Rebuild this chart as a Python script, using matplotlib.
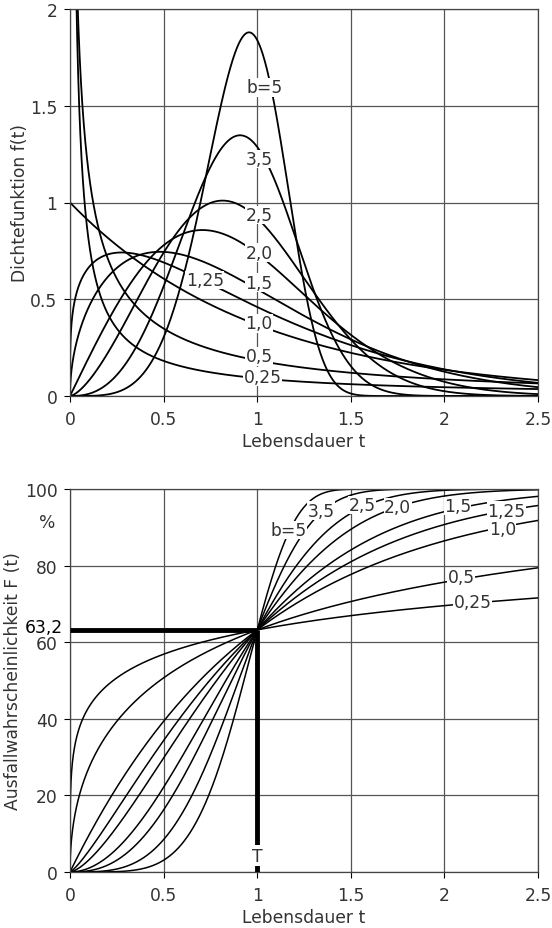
import numpy as np
import matplotlib
matplotlib.use("Agg")
import matplotlib.pyplot as plt

## Weibull shape parameters b (T = 1)
shapes = [0.25, 0.5, 1.0, 1.25, 1.5, 2.0, 2.5, 3.5, 5.0]
T_char = 1.0

## inline labels: text, t, value
pdf_labels = ["0,25", "0,5", "1,0", "1,25", "1,5", "2,0", "2,5", "3,5", "b=5"]
pdf_label_t = [1.03, 1.01, 1.01, 0.72, 1.01, 1.01, 1.01, 1.01, 1.04]
pdf_label_y = [0.10, 0.205, 0.375, 0.60, 0.585, 0.74, 0.935, 1.225, 1.595]

cdf_labels = ["0,25", "0,5", "1,0", "1,25", "1,5", "2,0", "2,5", "3,5", "b=5"]
cdf_label_t = [2.15, 2.09, 2.31, 2.33, 2.07, 1.75, 1.56, 1.34, 1.17]
cdf_label_y = [70.5, 77.0, 89.6, 94.3, 95.6, 95.3, 95.8, 94.3, 89.3]

x_ticks = [0, 0.5, 1, 1.5, 2, 2.5]
x_ticklabels = ["0", "0.5", "1", "1.5", "2", "2.5"]
pdf_yticks = [0, 0.5, 1, 1.5, 2]
pdf_yticklabels = ["0", "0.5", "1", "1.5", "2"]
cdf_yticks = [0, 20, 40, 60, 80, 100]
cdf_yticklabels = ["0", "20", "40", "60", "80", "100"]

txtcol = "#333333"
fs = 12.3
plt.rcParams["font.family"] = ["DejaVu Sans"]

t = np.linspace(1e-5, 2.5, 3000)

fig = plt.figure(figsize=(5.52, 9.29), dpi=100)
ax1 = fig.add_axes([70/552, 1-397/929, 468/552, 387/929])
ax2 = fig.add_axes([70/552, 1-873/929, 468/552, 383/929])

lab_box = dict(facecolor="white", edgecolor="none", pad=0.2)

for b in shapes:
    f = b / T_char * (t / T_char) ** (b - 1) * np.exp(-(t / T_char) ** b)
    F = 100 * (1 - np.exp(-(t / T_char) ** b))
    ax1.plot(t, f, color="black", lw=1.3)
    ax2.plot(t, F, color="black", lw=1.1)

for i in range(len(pdf_labels)):
    ax1.text(pdf_label_t[i], pdf_label_y[i], pdf_labels[i], fontsize=fs, color=txtcol,
             ha="center", va="center", bbox=lab_box, zorder=5)
for i in range(len(cdf_labels)):
    ax2.text(cdf_label_t[i], cdf_label_y[i], cdf_labels[i], fontsize=fs, color=txtcol,
             ha="center", va="center", bbox=lab_box, zorder=5)

## characteristic lifetime marker
F_T = 100 * (1 - np.exp(-1))
ax2.plot([0, T_char], [F_T, F_T], color="black", lw=3.5, solid_capstyle="butt", zorder=4)
ax2.plot([T_char, T_char], [0, F_T], color="black", lw=3.5, solid_capstyle="butt", zorder=4)
ax2.text(T_char, 4.3, "T", fontsize=fs, color=txtcol, ha="center", va="center",
         bbox=dict(facecolor="white", edgecolor="none", pad=0.8), zorder=5)
ax2.text(-0.04, 64.0, "63,2", fontsize=fs, color="black", ha="right", va="center",
         clip_on=False)
ax2.text(-0.123, 91.4, "%", fontsize=fs, color=txtcol, ha="center", va="center")

for ax in (ax1, ax2):
    ax.set_xlim(0, 2.5)
    ax.set_xticks(x_ticks)
    ax.set_xticklabels(x_ticklabels, fontsize=fs, color=txtcol)
    ax.grid(True, color="#555555", lw=0.9)
    ax.set_axisbelow(True)
    ax.tick_params(axis="x", length=4, width=0.8, color="black", pad=6)
    ax.tick_params(axis="y", length=4, width=0.8, color="black", pad=5)
    for sp in ax.spines.values():
        sp.set_linewidth(0.9)
        sp.set_color("#444444")
    ax.set_xlabel("Lebensdauer t", fontsize=fs, color=txtcol, labelpad=3)

ax1.set_ylim(0, 2)
ax1.set_yticks(pdf_yticks)
ax1.set_yticklabels(pdf_yticklabels, fontsize=fs, color=txtcol)
ax1.set_ylabel("Dichtefunktion f(t)", fontsize=fs, color=txtcol, labelpad=1)

ax2.set_ylim(0, 100)
ax2.set_yticks(cdf_yticks)
ax2.set_yticklabels(cdf_yticklabels, fontsize=fs, color=txtcol)
ax2.set_ylabel("Ausfallwahrscheinlichkeit F (t)", fontsize=fs, color=txtcol, labelpad=2)

fig.savefig("out.png", dpi=100)
